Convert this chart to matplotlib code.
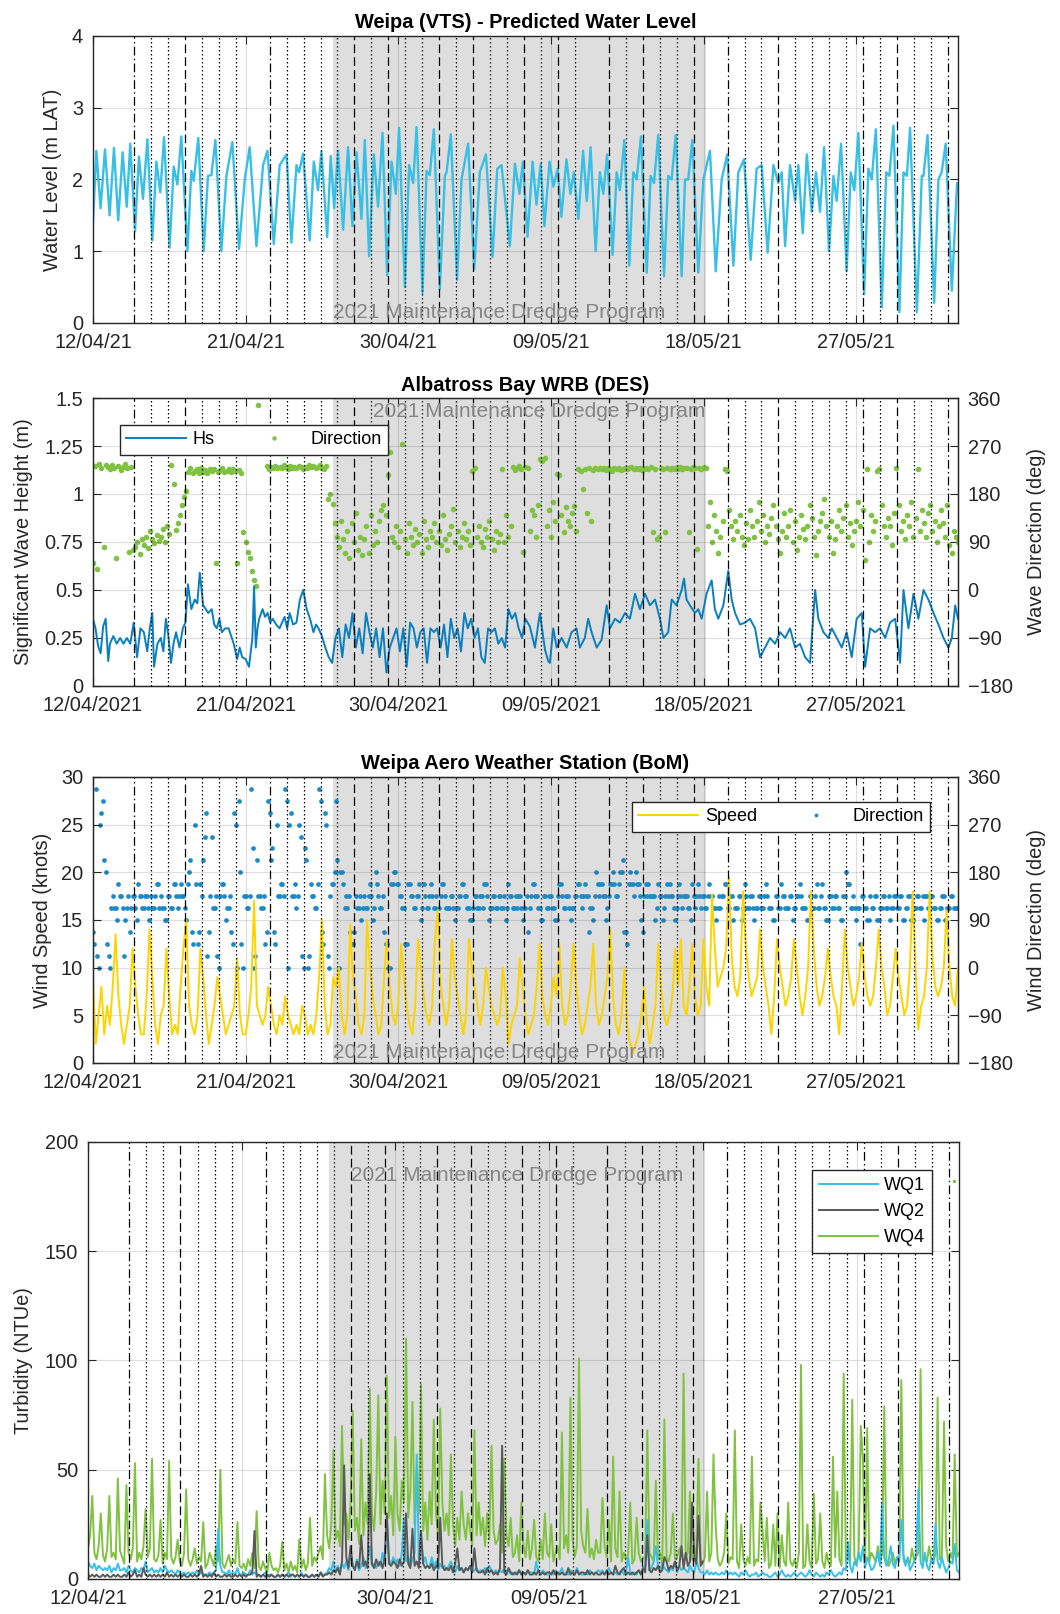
import datetime as dt
import numpy as np
import matplotlib
matplotlib.use('Agg')
import matplotlib.pyplot as plt
import matplotlib.dates as mdates
import matplotlib.transforms as mtrans

plt.rcParams['font.family'] = ['Liberation Sans', 'DejaVu Sans']
nan = np.nan

# ---- time frame (days counted from 12/04/2021 00:00) ----
start = dt.datetime(2021, 4, 12)
t0 = mdates.date2num(start)
end_day = 51.0
dredge_from = dt.datetime(2021, 4, 26, 3)
dredge_to = dt.datetime(2021, 5, 18, 3)

# daily event markers, A = dash-dot, B = dashed, C = dotted
event_hour = 10
event_days = [2, 3, 4, 5, 6, 7, 8, 10, 11, 12, 13, 14, 15, 16, 17, 18, 19, 20, 21, 22, 23, 24, 25,
              26, 27, 28, 30, 31, 32, 33, 34, 35, 37, 38, 39, 40, 41, 42, 43, 44, 45, 46, 47, 48, 49, 50]
event_type = ['A', 'C', 'C', 'B', 'C', 'C', 'C', 'A', 'C', 'C', 'C', 'C', 'B', 'C', 'B', 'C', 'C', 'B', 'C', 'B', 'C', 'C', 'B',
              'C', 'B', 'C', 'B', 'C', 'B', 'C', 'C', 'B', 'A', 'C', 'C', 'B', 'C', 'C', 'C', 'C', 'A', 'C', 'B', 'C', 'C', 'A']

# ---- predicted water level (day, m LAT) ----
tide = [(0.00, 1.39), (0.20, 2.40), (0.45, 1.60), (0.71, 2.42), (0.98, 1.50), (1.24, 2.44), (1.49, 1.43), (1.75, 2.38),
        (1.99, 1.62), (2.20, 2.50), (2.48, 1.28), (2.71, 2.32), (2.95, 1.73), (3.21, 2.56), (3.50, 1.15), (3.74, 2.25),
        (3.97, 1.82), (4.19, 2.59), (4.52, 1.05), (4.76, 2.18), (4.98, 1.93), (5.21, 2.60), (5.57, 1.00), (5.80, 2.12),
        (5.94, 1.98), (6.21, 2.58), (6.53, 1.00), (6.78, 2.05), (6.98, 2.06), (7.22, 2.55), (7.57, 1.00), (7.87, 2.05),
        (8.22, 2.52), (8.61, 1.03), (8.95, 2.00), (9.24, 2.45), (9.64, 1.07), (10.03, 2.20), (10.29, 2.40), (10.66, 1.10),
        (11.01, 2.20), (11.41, 2.35), (11.70, 1.12), (12.00, 2.20), (12.15, 2.10), (12.39, 2.36), (12.78, 1.15), (13.02, 2.25),
        (13.27, 1.85), (13.47, 2.39), (13.81, 1.20), (14.02, 2.33), (14.22, 1.60), (14.45, 2.40), (14.75, 1.30), (15.04, 2.45),
        (15.30, 1.35), (15.54, 2.38), (15.83, 1.45), (16.03, 2.55), (16.28, 0.93), (16.56, 2.35), (16.81, 1.62), (17.07, 2.65),
        (17.35, 0.66), (17.60, 2.25), (17.86, 1.80), (18.05, 2.72), (18.39, 0.50), (18.64, 2.20), (18.88, 1.95), (19.08, 2.73),
        (19.43, 0.42), (19.67, 2.12), (19.86, 2.06), (20.10, 2.70), (20.45, 0.47), (20.75, 2.05), (20.85, 2.10), (21.10, 2.63),
        (21.47, 0.60), (21.73, 2.00), (22.12, 2.50), (22.48, 0.75), (22.81, 2.10), (23.17, 2.35), (23.56, 0.92), (23.84, 2.15),
        (24.09, 2.20), (24.58, 1.07), (24.88, 2.22), (25.15, 1.80), (25.35, 2.25), (25.62, 1.20), (25.92, 2.25), (26.15, 1.65),
        (26.40, 2.22), (26.62, 1.35), (26.92, 2.25), (27.15, 1.90), (27.40, 2.15), (27.62, 1.48), (27.92, 2.28), (28.15, 1.80),
        (28.35, 2.10), (28.62, 1.45), (28.90, 2.40), (29.12, 1.70), (29.34, 2.45), (29.64, 1.00), (29.89, 2.10), (30.09, 1.80),
        (30.32, 2.35), (30.64, 0.95), (30.88, 2.10), (31.07, 1.85), (31.33, 2.55), (31.62, 0.80), (31.86, 2.10), (32.06, 2.00),
        (32.31, 2.60), (32.65, 0.70), (32.88, 2.05), (33.08, 1.95), (33.33, 2.62), (33.67, 0.65), (33.92, 2.05), (34.12, 2.00),
        (34.36, 2.62), (34.71, 0.65), (34.91, 2.00), (35.10, 2.00), (35.34, 2.55), (35.69, 0.70), (35.99, 2.00), (36.38, 2.40),
        (36.72, 0.72), (37.07, 2.00), (37.40, 2.35), (37.76, 0.80), (38.05, 2.10), (38.39, 2.28), (38.78, 0.88), (39.13, 2.15),
        (39.43, 2.20), (39.78, 0.98), (40.12, 2.20), (40.41, 1.95), (40.61, 2.10), (40.81, 1.07), (41.10, 2.20), (41.40, 1.70),
        (41.59, 2.20), (41.85, 1.25), (42.09, 2.35), (42.38, 1.55), (42.63, 2.10), (42.87, 1.55), (43.11, 2.45), (43.40, 1.00),
        (43.66, 2.05), (43.85, 1.70), (44.11, 2.50), (44.44, 0.72), (44.68, 2.10), (44.89, 1.85), (45.13, 2.65), (45.47, 0.40),
        (45.72, 2.15), (45.92, 2.00), (46.16, 2.70), (46.51, 0.22), (46.77, 2.10), (46.96, 2.05), (47.20, 2.75), (47.55, 0.15),
        (47.79, 2.10), (47.99, 2.05), (48.18, 2.72), (48.58, 0.15), (48.87, 2.05), (48.97, 2.05), (49.21, 2.62), (49.60, 0.28),
        (49.85, 2.00), (50.04, 2.10), (50.28, 2.50), (50.64, 0.45), (50.95, 1.95)]

# ---- significant wave height (day, m) ----
hs = [(0.00, 0.35), (0.15, 0.30), (0.30, 0.21), (0.45, 0.17), (0.60, 0.31), (0.75, 0.35), (0.90, 0.13), (1.00, 0.22),
      (1.20, 0.26), (1.40, 0.22), (1.60, 0.25), (1.80, 0.22), (2.00, 0.25), (2.20, 0.22), (2.40, 0.33), (2.60, 0.15),
      (2.80, 0.30), (3.00, 0.28), (3.20, 0.18), (3.35, 0.30), (3.50, 0.38), (3.60, 0.10), (3.80, 0.22), (4.00, 0.25),
      (4.15, 0.18), (4.30, 0.35), (4.45, 0.26), (4.60, 0.12), (4.75, 0.22), (4.90, 0.28), (5.10, 0.20), (5.30, 0.30),
      (5.45, 0.33), (5.60, 0.53), (5.80, 0.40), (6.00, 0.45), (6.15, 0.43), (6.30, 0.59), (6.50, 0.42), (6.65, 0.40),
      (6.80, 0.38), (7.00, 0.40), (7.15, 0.32), (7.30, 0.30), (7.45, 0.35), (7.60, 0.28), (7.80, 0.30), (8.00, 0.30),
      (8.15, 0.26), (8.30, 0.22), (8.50, 0.14), (8.65, 0.20), (8.80, 0.15), (9.00, 0.14), (9.20, 0.10), (9.40, 0.25),
      (9.50, 0.52), (9.60, 0.20), (9.70, 0.30), (9.80, 0.35), (10.00, 0.40), (10.15, 0.36), (10.30, 0.38), (10.45, 0.33),
      (10.60, 0.35), (10.80, 0.32), (11.00, 0.30), (11.15, 0.33), (11.30, 0.36), (11.45, 0.30), (11.60, 0.38), (11.80, 0.32),
      (12.00, 0.33), (12.20, 0.45), (12.40, 0.50), (12.60, 0.40), (12.80, 0.35), (13.00, 0.28), (13.15, 0.32), (13.30, 0.30),
      (13.50, 0.26), (13.70, 0.20), (13.90, 0.15), (14.10, 0.12), (14.30, 0.25), (14.50, 0.30), (14.70, 0.15), (14.90, 0.32),
      (15.10, 0.25), (15.30, 0.38), (15.50, 0.20), (15.70, 0.30), (15.90, 0.17), (16.10, 0.38), (16.30, 0.28), (16.50, 0.20),
      (16.70, 0.30), (16.90, 0.15), (17.10, 0.30), (17.30, 0.07), (17.50, 0.20), (17.70, 0.25), (17.90, 0.30), (18.10, 0.18),
      (18.30, 0.30), (18.50, 0.10), (18.70, 0.33), (18.90, 0.30), (19.10, 0.20), (19.30, 0.28), (19.50, 0.30), (19.70, 0.12),
      (19.90, 0.30), (20.10, 0.28), (20.30, 0.30), (20.50, 0.20), (20.70, 0.32), (20.90, 0.15), (21.10, 0.35), (21.30, 0.25),
      (21.50, 0.30), (21.70, 0.18), (21.90, 0.38), (22.10, 0.30), (22.30, 0.35), (22.50, 0.25), (22.70, 0.30), (22.90, 0.15),
      (23.10, 0.12), (23.30, 0.30), (23.50, 0.28), (23.70, 0.30), (23.90, 0.22), (24.10, 0.25), (24.30, 0.20), (24.50, 0.40),
      (24.70, 0.35), (24.90, 0.38), (25.10, 0.30), (25.30, 0.25), (25.50, 0.35), (25.76, 0.31), (26.06, 0.20), (26.35, 0.38),
      (26.65, 0.19), (26.84, 0.13), (26.94, 0.12), (27.14, 0.30), (27.34, 0.20), (27.63, 0.25), (27.93, 0.20), (28.22, 0.28),
      (28.51, 0.30), (28.71, 0.20), (29.00, 0.25), (29.20, 0.35), (29.40, 0.28), (29.70, 0.20), (29.99, 0.24), (30.29, 0.42),
      (30.48, 0.30), (30.78, 0.35), (31.07, 0.33), (31.37, 0.38), (31.66, 0.35), (31.96, 0.48), (32.25, 0.40), (32.55, 0.48),
      (32.84, 0.42), (33.14, 0.45), (33.43, 0.35), (33.63, 0.25), (33.92, 0.28), (34.12, 0.45), (34.41, 0.42), (34.71, 0.50),
      (34.85, 0.56), (35.00, 0.45), (35.20, 0.42), (35.49, 0.38), (35.69, 0.40), (35.89, 0.35), (36.18, 0.48), (36.48, 0.55),
      (36.67, 0.40), (36.87, 0.35), (37.17, 0.42), (37.46, 0.60), (37.66, 0.45), (37.86, 0.38), (38.15, 0.32), (38.45, 0.33),
      (38.74, 0.35), (39.04, 0.30), (39.33, 0.15), (39.63, 0.20), (39.92, 0.25), (40.22, 0.22), (40.52, 0.28), (40.81, 0.25),
      (41.10, 0.30), (41.40, 0.20), (41.69, 0.22), (41.99, 0.15), (42.28, 0.12), (42.58, 0.50), (42.77, 0.35), (43.07, 0.28),
      (43.36, 0.25), (43.56, 0.30), (43.86, 0.25), (44.15, 0.20), (44.44, 0.28), (44.74, 0.15), (45.03, 0.35), (45.33, 0.38),
      (45.53, 0.10), (45.82, 0.30), (46.12, 0.28), (46.41, 0.30), (46.71, 0.25), (47.00, 0.33), (47.30, 0.35), (47.59, 0.12),
      (47.79, 0.50), (48.08, 0.30), (48.38, 0.48), (48.67, 0.35), (48.97, 0.50), (49.26, 0.45), (49.56, 0.38), (49.85, 0.32),
      (50.15, 0.25), (50.44, 0.20), (50.64, 0.25), (50.84, 0.42), (51.00, 0.35)]

# ---- wave direction (deg), 8 readings per day ----
wave_dir = [
    [50, 232, 40, 236, 228, 80, 234, 230], [226, 234, 228, 60, 232, 225, 230, 236],
    [228, 72, 230, 75, 80, 90, 68, 95], [85, 100, 78, 110, 95, 88, 104, 92],
    [100, 115, 90, 120, 105, 234, 198, 112], [125, 140, 160, 175, 185, 222, 228, 220],
    [224, 226, 220, 228, 222, 225, 219, 227], [223, 226, 50, 221, 225, 228, 222, 224],
    [226, 222, 227, 224, 50, 225, 220, 108], [90, 72, 60, 36, 18, 7, 346, nan],
    [nan, nan, 232, 226, 230, 228, 233, 229], [231, 228, 234, 230, 226, 232, 229, 231],
    [228, 233, 230, 226, 231, 229, 234, 230], [232, 228, 231, 235, 229, 226, 233, 170],
    [180, 162, 126, 100, 80, 130, 95, 70], [110, 60, 125, 90, 145, 75, 100, 65],
    [95, 120, 70, 140, 85, 110, 90, 130], [150, 160, 140, 216, 259, 100, 90, 120],
    [80, 110, 274, 95, 70, 125, 100, 85], [115, 90, 105, 70, 130, 95, 80, 110],
    [100, 125, 90, 110, 85, 140, 95, 75], [105, 120, 152, 90, 110, 80, 100, 125],
    [95, 110, 85, 224, 228, 100, 120, 90], [80, 115, 100, 130, 95, 75, 110, 90],
    [105, 226, 90, 140, 100, 120, 230, 225], [228, 232, 226, 72, 230, 228, 110, 150],
    [140, 100, 160, 245, 242, 248, 120, 150], [100, 165, 130, 218, 215, 140, 108, 155],
    [130, 120, 145, 158, 110, 226, 224, 190], [227, 145, 228, 130, 225, 229, 226, 228],
    [226, 229, 225, 228, 227, 224, 229, 226], [228, 225, 227, 229, 226, 228, 230, 227],
    [229, 226, 228, 225, 227, 229, 226, 230], [108, 227, 95, 100, 228, 226, 108, 229],
    [226, 228, 227, 229, 226, 230, 227, 228], [229, 108, 226, 230, 228, 77, 229, 227],
    [231, 228, 120, 165, 90, 140, 110, 70], [100, 130, 226, 224, 150, 120, 95, 130],
    [110, 140, 100, 85, 125, 95, 150, 120], [100, 130, 165, 110, 140, 90, 120, 105],
    [135, 160, 120, 95, 70, 110, 145, 100], [120, 150, 90, 130, 75, 100, 140, 115],
    [95, 120, 160, 135, 100, 65, 110, 130], [145, 170, 120, 100, 130, 70, 95, 120],
    [150, 110, 135, 160, 100, 125, 85, 110], [130, 165, 120, 150, 57, 226, 90, 140],
    [110, 130, 224, 226, 160, 120, 100, 135], [120, 85, 145, 228, 160, 110, 130, 95],
    [140, 120, 165, 100, 135, 226, 110, 150], [125, 100, 145, 160, 110, 130, 90, 120],
    [150, 125, 100, 160, 85, 70, 110, 100], [90]]

# ---- wind speed (knots), 6 readings per day ----
wind_speed = [
    [9, 2, 5, 8, 3, 6], [4, 8, 13.5, 7, 4, 2], [4, 6, 12, 8, 5, 3], [3, 7, 14, 9, 4, 2],
    [5, 6, 12, 7, 3, 4], [3, 8, 12, 15, 6, 4], [3, 5, 12, 9, 5, 2], [4, 6, 9, 7, 5, 3],
    [4, 5, 6, 11, 5, 3], [3, 5, 8, 17, 6, 5], [4, 5, 8, 6, 4, 3], [5, 4, 7, 5, 4, 3],
    [4, 3, 6, 5, 3, 4], [3, 5, 9, 15, 6, 3], [4, 9, 8, 10, 5, 3], [5, 14.5, 9, 7, 4, 3],
    [5, 15, 10, 7, 5, 3], [4, 9, 13, 8, 5, 4], [6, 12.5, 9, 6, 4, 3], [6, 13, 10, 7, 5, 4],
    [6, 13, 16, 8, 6, 4], [6, 13, 9, 7, 5, 3], [5, 13, 10, 8, 6, 4], [6, 10, 8, 6, 5, 4],
    [5, 10, 7, 2, 4, 5], [6, 11, 8, 5, 3, 4], [5, 8, 12.5, 7, 5, 4], [6, 9, 7, 12.5, 6, 4],
    [5, 8, 12.5, 8, 5, 3], [4, 6, 8, 12.5, 6, 4], [5, 7, 9, 14, 7, 4], [3, 5, 10, 4, 2, 1],
    [2, 3, 5, 8, 4, 2], [4, 6, 12.5, 8, 5, 4], [5, 7, 12, 8, 13, 6], [5, 8, 12.5, 7, 5, 6],
    [13, 8, 6, 17.7, 12, 8], [9, 10, 12, 19.5, 11, 8], [7, 9, 18, 12, 9, 7], [8, 9, 14, 10, 8, 6],
    [3, 7, 13, 10, 8, 6], [7, 9, 13, 10, 7, 5], [7, 10, 18, 12, 8, 6], [7, 9, 12, 9, 7, 6],
    [3, 8, 14, 10, 8, 6], [7, 9, 12.5, 9, 7, 6], [7, 10, 14, 10, 8, 5], [6, 9, 12, 9, 7, 5],
    [6, 10, 18, 10, 3.5, 6], [7, 10, 18, 11, 8, 7], [8, 10, 16, 10, 7, 6], [10]]

# ---- wind direction (deg), 12 readings per day ----
wind_dir = [
    [67.5, 45, 337.5, 22.5, 0, 270, 292.5, 315, 202.5, 180, 45, 22.5],
    [0, 112.5, 135, 112.5, 112.5, 90, 157.5, 135, 135, 112.5, 22.5, 90],
    [112.5, 135, 67.5, 112.5, 135, 135, 112.5, 90, 157.5, 135, 135, 112.5],
    [112.5, 135, 135, 112.5, 90, 135, 112.5, 112.5, 135, 157.5, 157.5, 112.5],
    [135, 112.5, 112.5, 90, 90, 135, 135, 112.5, 112.5, 157.5, 157.5, 135],
    [112.5, 135, 157.5, 135, 135, 112.5, 90, 157.5, 180, 202.5, 67.5, 45],
    [270, 157.5, 45, 67.5, 157.5, 135, 202.5, 247.5, 292.5, 22.5, 67.5, 135],
    [247.5, 112.5, 112.5, 135, 22.5, 0, 135, 157.5, 157.5, 135, 90, 112.5],
    [112.5, 135, 67.5, 45, 292.5, 270, 0, 315, 180, 45, 0, 135],
    [135, 112.5, 112.5, 135, 337.5, 225, 0, 22.5, 202.5, 135, 135, 112.5],
    [112.5, 135, 45, 67.5, 315, 292.5, 202.5, 225, 67.5, 45, 270, 135],
    [135, 157.5, 157.5, 135, 337.5, 315, 0, 270, 292.5, 135, 135, 157.5],
    [112.5, 135, 270, 247.5, 22.5, 0, 225, 202.5, 0, 22.5, 157.5, 135],
    [135, 112.5, 112.5, 157.5, 337.5, 315, 67.5, 45, 292.5, 270, 22.5, 0],
    [135, 157.5, 157.5, 180, 315, 202.5, 0, 180, 180, 157.5, 112.5, 135],
    [112.5, 135, 67.5, 45, 45, 67.5, 135, 112.5, 112.5, 135, 90, 112.5],
    [135, 112.5, 112.5, 135, 157.5, 135, 90, 112.5, 180, 157.5, 135, 112.5],
    [112.5, 135, 67.5, 45, 45, 0, 0, 157.5, 157.5, 180, 180, 157.5],
    [157.5, 135, 135, 112.5, 112.5, 45, 45, 157.5, 157.5, 135, 135, 112.5],
    [112.5, 135, 135, 157.5, 90, 112.5, 157.5, 135, 112.5, 112.5, 135, 157.5],
    [135, 112.5, 112.5, 135, 90, 112.5, 135, 157.5, 157.5, 135, 112.5, 112.5],
    [112.5, 135, 135, 112.5, 90, 112.5, 112.5, 135, 135, 157.5, 157.5, 135],
    [135, 112.5, 112.5, 90, 90, 112.5, 135, 135, 112.5, 112.5, 135, 135],
    [112.5, 157.5, 157.5, 135, 90, 112.5, 112.5, 135, 135, 112.5, 112.5, 135],
    [135, 112.5, 112.5, 135, 90, 112.5, 157.5, 135, 135, 112.5, 112.5, 135],
    [112.5, 135, 135, 112.5, 90, 112.5, 112.5, 135, 67.5, 112.5, 135, 157.5],
    [157.5, 135, 135, 112.5, 112.5, 90, 90, 135, 135, 112.5, 112.5, 135],
    [135, 112.5, 112.5, 90, 90, 135, 157.5, 157.5, 135, 112.5, 112.5, 135],
    [135, 112.5, 90, 112.5, 112.5, 135, 135, 157.5, 157.5, 135, 112.5, 135],
    [157.5, 135, 135, 67.5, 112.5, 112.5, 90, 135, 180, 157.5, 135, 157.5],
    [157.5, 135, 135, 90, 112.5, 135, 157.5, 157.5, 180, 157.5, 135, 135],
    [157.5, 180, 180, 202.5, 67.5, 67.5, 45, 157.5, 180, 157.5, 157.5, 135],
    [180, 157.5, 157.5, 135, 90, 67.5, 135, 157.5, 135, 157.5, 135, 135],
    [135, 135, 90, 112.5, 157.5, 135, 135, 90, 112.5, 135, 157.5, 135],
    [157.5, 135, 135, 112.5, 90, 112.5, 135, 157.5, 135, 112.5, 135, 135],
    [135, 112.5, 112.5, 90, 157.5, 135, 112.5, 135, 157.5, 135, 112.5, 135],
    [135, 112.5, 112.5, 135, 157.5, 135, 135, 112.5, 112.5, 90, 112.5, 135],
    [112.5, 135, 135, 157.5, 157.5, 112.5, 112.5, 135, 135, 90, 112.5, 112.5],
    [112.5, 135, 135, 90, 112.5, 157.5, 135, 112.5, 112.5, 135, 135, 112.5],
    [90, 112.5, 112.5, 135, 135, 112.5, 112.5, 135, 157.5, 135, 112.5, 112.5],
    [112.5, 90, 90, 135, 135, 112.5, 112.5, 157.5, 135, 135, 112.5, 112.5],
    [112.5, 135, 135, 90, 112.5, 112.5, 135, 135, 157.5, 135, 112.5, 112.5],
    [112.5, 90, 90, 135, 135, 112.5, 112.5, 135, 157.5, 112.5, 112.5, 135],
    [157.5, 112.5, 112.5, 90, 90, 135, 135, 112.5, 112.5, 135, 135, 112.5],
    [112.5, 90, 90, 135, 135, 180, 157.5, 157.5, 112.5, 112.5, 135, 112.5],
    [90, 112.5, 112.5, 45, 135, 135, 112.5, 112.5, 90, 90, 135, 112.5],
    [112.5, 135, 135, 90, 90, 112.5, 112.5, 135, 135, 112.5, 112.5, 135],
    [90, 112.5, 112.5, 135, 135, 112.5, 112.5, 135, 135, 90, 90, 112.5],
    [112.5, 135, 135, 90, 90, 112.5, 112.5, 135, 135, 112.5, 112.5, 135],
    [90, 135, 135, 112.5, 112.5, 135, 135, 112.5, 112.5, 90, 90, 112.5],
    [112.5, 135, 135, 90, 112.5, 112.5, 112.5, 135, 135, 112.5, 112.5, 112.5],
    [112.5]]

# ---- turbidity (NTUe), 8 readings per day ----
wq1 = [
    [8, 6, 5, 7, 4, 6, 5, 4], [5, 4, 6, 3, 5, 4, 7, 4], [4, 5, 3, 6, 4, 3, 5, 4], [3, 5, 4, 8, 3, 4, 5, 3],
    [4, 3, 5, 3, 6, 4, 3, 4], [3, 2, 4, 3, 2, 3, 2, 3], [2, 3, 2, 4, 2, 3, 2, 2], [2, 3, 2, 3, 4, 23, 6, 3],
    [3, 2, 4, 2, 3, 2, 5, 2], [2, 3, 2, 2, 4, 2, 3, 2], [2, 1, 2, 3, 1, 2, 2, 1], [1, 2, 1, 2, 1, 2, 3, 1],
    [2, 1, 2, 1, 3, 1, 2, 1], [1, 2, 1, 2, 1, 3, 2, 2], [3, 5, 4, 8, 3, 6, 4, 7], [5, 8, 4, 12, 6, 5, 9, 4],
    [6, 10, 5, 8, 15, 6, 7, 5], [8, 6, 12, 7, 28, 9, 6, 10], [7, 9, 6, 12, 28, 8, 10, 6], [9, 12, 57, 8, 20, 7, 10, 6],
    [5, 10, 6, 8, 4, 7, 5, 6], [4, 6, 8, 5, 3, 6, 4, 5], [3, 5, 4, 6, 3, 4, 5, 3], [4, 3, 5, 3, 6, 4, 3, 4],
    [3, 4, 3, 5, 3, 4, 2, 3], [2, 3, 4, 2, 3, 2, 4, 3], [3, 2, 8, 3, 2, 4, 3, 2], [2, 3, 2, 4, 2, 3, 5, 2],
    [3, 2, 4, 3, 2, 5, 3, 2], [2, 3, 2, 4, 3, 2, 3, 4], [3, 4, 2, 3, 5, 3, 2, 3], [2, 3, 4, 2, 3, 10, 3, 2],
    [3, 2, 4, 3, 5, 6, 27, 4], [5, 8, 15, 6, 4, 7, 5, 4], [3, 5, 4, 8, 3, 6, 4, 5], [4, 3, 6, 4, 3, 8, 5, 3],
    [3, 2, 4, 2, 3, 2, 3, 2], [2, 3, 2, 4, 2, 3, 2, 3], [2, 1, 3, 2, 4, 2, 1, 2], [2, 3, 1, 2, 3, 2, 2, 1],
    [1, 2, 3, 1, 2, 4, 2, 1], [2, 1, 2, 3, 1, 2, 3, 2], [1, 2, 4, 2, 1, 3, 2, 1], [2, 1, 3, 2, 4, 2, 1, 2],
    [3, 2, 5, 4, 17, 6, 3, 8], [6, 12, 8, 15, 5, 10, 7, 4], [5, 8, 12, 6, 35, 10, 6, 8], [15, 7, 5, 10, 8, 27, 9, 6],
    [10, 4, 6, 8, 12, 41, 8, 5], [12, 6, 4, 9, 7, 25, 8, 5], [10, 6, 3, 5, 8, 7, 16, 4], [3]]

wq2 = [
    [2, 1, 2, 1, 2, 1, 1, 2], [1, 2, 1, 1, 2, 1, 2, 1], [1, 2, 1, 3, 1, 2, 4, 1], [2, 1, 5, 2, 1, 2, 1, 2],
    [1, 2, 1, 2, 1, 3, 1, 2], [1, 2, 1, 2, 1, 2, 1, 1], [2, 1, 2, 1, 2, 6, 1, 2], [1, 2, 1, 3, 1, 2, 1, 1],
    [2, 1, 2, 1, 1, 2, 1, 2], [1, 2, 1, 2, 2, 3, 22, 1], [2, 1, 2, 1, 2, 1, 2, 1], [1, 2, 1, 2, 1, 2, 1, 2],
    [2, 1, 2, 1, 2, 1, 2, 1], [1, 2, 1, 2, 1, 3, 1, 2], [2, 3, 2, 4, 3, 5, 2, 8], [52, 10, 5, 15, 6, 4, 8, 5],
    [20, 6, 8, 5, 48, 7, 5, 9], [6, 8, 5, 10, 30, 7, 6, 8], [7, 5, 9, 6, 8, 30, 7, 5], [23, 6, 8, 5, 22, 7, 5, 6],
    [5, 7, 4, 6, 5, 28, 6, 4], [5, 4, 6, 3, 7, 14, 4, 5], [3, 5, 4, 6, 3, 14, 4, 3], [3, 4, 2, 5, 3, 4, 2, 3],
    [2, 5, 61, 3, 2, 5, 3, 2], [3, 2, 4, 2, 3, 2, 4, 2], [2, 3, 2, 4, 2, 3, 2, 3], [3, 2, 4, 2, 3, 2, 3, 2],
    [2, 5, 2, 3, 2, 4, 2, 3], [3, 2, 4, 2, 3, 2, 3, 2], [2, 3, 2, 4, 2, 3, 2, 6], [3, 2, 4, 5, 2, 3, 2, 3],
    [2, 3, 4, 2, 5, 3, 20, 4], [3, 5, 4, 6, 3, 4, 10, 8], [4, 6, 5, 8, 4, 6, 15, 5], [12, 6, 8, 35, 10, 7, 29, 6],
    [8]]

wq4 = [
    [14, 20, 38, 12, 9, 15, 30, 11], [8, 14, 38, 10, 12, 9, 46, 13], [10, 7, 43, 12, 9, 14, 53, 8],
    [12, 9, 15, 32, 10, 14, 55, 9], [8, 11, 27, 7, 12, 9, 54, 10], [7, 10, 18, 8, 6, 12, 41, 9],
    [6, 9, 14, 7, 10, 8, 26, 5], [7, 12, 9, 6, 15, 8, 50, 7], [5, 8, 11, 6, 9, 7, 26, 6],
    [5, 7, 4, 9, 6, 12, 5, 31], [6, 4, 8, 5, 3, 12, 6, 4], [5, 3, 6, 17, 4, 7, 3, 8],
    [4, 6, 3, 18, 5, 9, 4, 7], [28, 6, 10, 8, 12, 15, 9, 48], [20, 14, 25, 59, 18, 22, 15, 70],
    [25, 30, 18, 35, 77, 22, 28, 16], [64, 20, 35, 25, 87, 30, 22, 40], [84, 25, 45, 30, 93, 28, 38, 20],
    [65, 30, 22, 45, 35, 110, 28, 40], [81, 25, 50, 30, 89, 22, 35, 18], [40, 25, 73, 30, 20, 78, 35, 22],
    [30, 20, 57, 25, 15, 28, 18, 40], [25, 18, 30, 22, 15, 68, 20, 35], [20, 28, 15, 30, 18, 61, 22, 16],
    [18, 25, 12, 55, 20, 15, 28, 10], [12, 20, 8, 35, 15, 10, 22, 9], [14, 27, 10, 8, 18, 9, 30, 12],
    [10, 25, 8, 12, 15, 9, 67, 14], [20, 12, 83, 18, 10, 15, 101, 22], [15, 12, 32, 10, 14, 9, 18, 12],
    [12, 37, 15, 10, 27, 8, 56, 14], [10, 40, 8, 12, 9, 11, 35, 7], [9, 28, 12, 8, 10, 9, 68, 12],
    [10, 8, 45, 9, 12, 7, 73, 10], [8, 12, 30, 9, 10, 14, 11, 94], [10, 12, 40, 9, 8, 15, 55, 9],
    [7, 10, 40, 8, 12, 57, 25, 9], [6, 8, 12, 30, 7, 10, 9, 68], [8, 5, 25, 9, 6, 10, 7, 56],
    [6, 9, 8, 35, 22, 8, 28, 5], [7, 25, 6, 30, 5, 20, 8, 6], [35, 8, 6, 9, 5, 12, 98, 5],
    [6, 25, 8, 5, 39, 7, 9, 30], [8, 5, 12, 7, 6, 56, 10, 40], [9, 6, 94, 8, 12, 7, 82, 10],
    [7, 12, 70, 55, 6, 69, 8, 12], [10, 8, 15, 7, 12, 79, 9, 6], [8, 12, 7, 10, 9, 91, 11, 7],
    [9, 7, 14, 8, 10, 12, 96, 8], [10, 8, 15, 9, 7, 12, 83, 9], [10, 72, 15, 8, 12, 9, 57, 10], [12]]
wq4_outlier = [(50.7, 182)]


def pairs(data):
    d, v = zip(*data)
    return t0 + np.array(d), np.array(v, float)


def daily(rows):
    t, v = [], []
    for day, row in enumerate(rows):
        for k, val in enumerate(row):
            t.append(t0 + day + k / len(row))
            v.append(val)
    return np.array(t), np.array(v, float)


ink = '#262626'
dash_of = {'A': (0, (7, 2.6, 1.2, 2.6)), 'B': (0, (7, 3.3)), 'C': (0, (1.2, 2.0))}
dredge_label = '2021 Maintenance Dredge Program'


def base_axes(ax, fmt, right_ticks=True):
    ax.set_xlim(t0, t0 + end_day)
    ax.set_xticks([t0 + 9 * k for k in range(6)])
    ax.xaxis.set_major_formatter(mdates.DateFormatter(fmt))
    ax.tick_params(direction='in', length=6, width=0.8, colors=ink, labelsize=14.4, top=True,
                   right=right_ticks)
    ax.tick_params(axis='x', pad=7)
    ax.tick_params(axis='y', pad=7)
    ax.grid(True, color=ink, alpha=0.15, lw=0.8)
    ax.set_axisbelow('line')
    for s in ax.spines.values():
        s.set_color(ink)
        s.set_linewidth(1.0)
    for d, kind in zip(event_days, event_type):
        ax.axvline(t0 + d + event_hour / 24, color='k', lw=0.9, ls=dash_of[kind], zorder=2.5)


def shade(ax):
    ax.axvspan(mdates.date2num(dredge_from), mdates.date2num(dredge_to), color='#dedede', lw=0, zorder=0.5)


def dredge_text(ax, x, y, ha, va):
    tr = mtrans.blended_transform_factory(ax.transData, ax.transAxes)
    ax.text(x, y, dredge_label, transform=tr, fontsize=15, color='#858585', ha=ha, va=va, zorder=4)


fig = plt.figure(figsize=(10.6, 16.14), dpi=100)
x_from = mdates.date2num(dredge_from)
x_to = mdates.date2num(dredge_to)

# ---------- panel 1: water level ----------
ax1 = fig.add_axes([0.0877, 0.7999, 0.8160, 0.1778])
shade(ax1)
base_axes(ax1, '%d/%m/%y')
tx, ty = pairs(tide)
ax1.plot(tx, ty, color='#38bfe6', lw=1.7, zorder=2)
ax1.set_ylim(0, 4)
ax1.set_yticks([0, 1, 2, 3, 4])
ax1.set_ylabel('Water Level (m LAT)', fontsize=14.4, color=ink)
ax1.yaxis.set_label_coords(-0.036, 0.5)
ax1.set_title('Weipa (VTS) - Predicted Water Level', fontsize=14.4, fontweight='bold', pad=6)
dredge_text(ax1, x_from, 0.018, 'left', 'baseline')

# ---------- panel 2: waves ----------
ax2 = fig.add_axes([0.0877, 0.5750, 0.8160, 0.1784])
ax2r = ax2.twinx()
ax2.set_zorder(ax2r.get_zorder() + 1)
ax2.patch.set_visible(False)
shade(ax2r)
base_axes(ax2, '%d/%m/%Y', right_ticks=False)
hx, hy = pairs(hs)
l_hs, = ax2.plot(hx, hy, color='#0a7fc0', lw=1.4, zorder=2)
wx, wy = daily(wave_dir)
l_wd, = ax2r.plot(wx, wy, ls='none', marker='o', ms=4.0, mew=0, color='#80c241', zorder=2)
ax2.set_ylim(0, 1.5)
ax2.set_yticks([0, 0.25, 0.5, 0.75, 1, 1.25, 1.5])
ax2.set_yticklabels(['0', '0.25', '0.5', '0.75', '1', '1.25', '1.5'])
ax2r.set_ylim(-180, 360)
ax2r.set_yticks([-180, -90, 0, 90, 180, 270, 360])
ax2r.tick_params(direction='in', length=6, width=0.8, colors=ink, labelsize=14.4, pad=7)
ax2.set_ylabel('Significant Wave Height (m)', fontsize=14.4, color=ink)
ax2.yaxis.set_label_coords(-0.069, 0.5)
ax2r.set_ylabel('Wave Direction (deg)', fontsize=14.4, color=ink)
ax2r.yaxis.set_label_coords(1.080, 0.5)
ax2.set_title('Albatross Bay WRB (DES)', fontsize=14.4, fontweight='bold', pad=5)
dredge_text(ax2, x_to, 0.985, 'right', 'top')
ax2.legend([l_hs, l_wd], ['Hs', 'Direction'], ncol=2, loc='upper left', bbox_to_anchor=(0.031, 0.906),
           fontsize=13, frameon=True, fancybox=False, edgecolor=ink, framealpha=1, handlelength=3.3,
           handletextpad=0.4, columnspacing=1.6, numpoints=1, borderaxespad=0, borderpad=0.35,
           markerscale=0.8)

# ---------- panel 3: wind ----------
ax3 = fig.add_axes([0.0877, 0.3414, 0.8160, 0.1772])
ax3r = ax3.twinx()
ax3.set_zorder(ax3r.get_zorder() + 1)
ax3.patch.set_visible(False)
shade(ax3r)
base_axes(ax3, '%d/%m/%Y', right_ticks=False)
sx, sy = daily(wind_speed)
l_sp, = ax3.plot(sx, sy, color='#fdd400', lw=1.4, zorder=2)
dx, dy = daily(wind_dir)
l_dir, = ax3r.plot(dx, dy, ls='none', marker='o', ms=3.4, mew=0, color='#1b8ac6', zorder=2)
ax3.set_ylim(0, 30)
ax3.set_yticks([0, 5, 10, 15, 20, 25, 30])
ax3r.set_ylim(-180, 360)
ax3r.set_yticks([-180, -90, 0, 90, 180, 270, 360])
ax3r.tick_params(direction='in', length=6, width=0.8, colors=ink, labelsize=14.4, pad=7)
ax3.set_ylabel('Wind Speed (knots)', fontsize=14.4, color=ink)
ax3.yaxis.set_label_coords(-0.047, 0.5)
ax3r.set_ylabel('Wind Direction (deg)', fontsize=14.4, color=ink)
ax3r.yaxis.set_label_coords(1.080, 0.5)
ax3.set_title('Weipa Aero Weather Station (BoM)', fontsize=14.4, fontweight='bold', pad=6)
dredge_text(ax3, x_from, 0.018, 'left', 'baseline')
ax3.legend([l_sp, l_dir], ['Speed', 'Direction'], ncol=2, loc='upper right', bbox_to_anchor=(0.968, 0.913),
           fontsize=13, frameon=True, fancybox=False, edgecolor=ink, framealpha=1, handlelength=3.3,
           handletextpad=0.4, columnspacing=1.6, numpoints=1, borderaxespad=0, borderpad=0.35,
           markerscale=0.8)

# ---------- panel 4: turbidity ----------
ax4 = fig.add_axes([0.0830, 0.0217, 0.8217, 0.2708])
shade(ax4)
base_axes(ax4, '%d/%m/%y')
x4, y4 = daily(wq4)
l4, = ax4.plot(x4, y4, color='#80c241', lw=1.4, zorder=2)
x1, y1 = daily(wq1)
l1, = ax4.plot(x1, y1, color='#37c1e9', lw=1.4, zorder=2.1)
x2, y2 = daily(wq2)
l2, = ax4.plot(x2, y2, color='#595959', lw=1.4, zorder=2.2)
ox, oy = pairs(wq4_outlier)
ax4.plot(ox, oy, ls='none', marker='o', ms=2.5, mew=0, color='#80c241', zorder=2)
ax4.set_ylim(0, 200)
ax4.set_yticks([0, 50, 100, 150, 200])
ax4.set_ylabel('Turbidity (NTUe)', fontsize=14.4, color=ink)
ax4.yaxis.set_label_coords(-0.063, 0.5)
dredge_text(ax4, (x_from + x_to) / 2, 0.945, 'center', 'top')
ax4.legend([l1, l2, l4], ['WQ1', 'WQ2', 'WQ4'], loc='upper right', bbox_to_anchor=(0.969, 0.936),
           fontsize=13, frameon=True, fancybox=False, edgecolor=ink, framealpha=1, handlelength=3.3,
           handletextpad=0.3, labelspacing=0.5, borderaxespad=0, borderpad=0.4)

fig.savefig('out.png', dpi=100, facecolor='white')
